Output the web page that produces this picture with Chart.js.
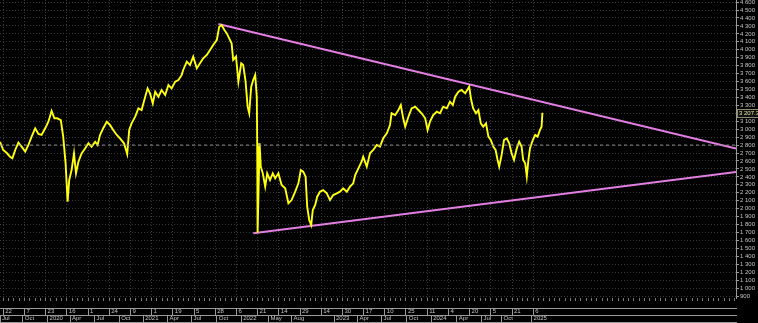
<!DOCTYPE html>
<html><head><meta charset="utf-8">
<script src="https://cdn.jsdelivr.net/npm/chart.js@4.4.1/dist/chart.umd.min.js"></script>
<style>html,body{margin:0;padding:0;background:#000;overflow:hidden}canvas{display:block}</style>
</head><body>
<canvas id="c" width="758" height="323"></canvas>
<script>
// ---- data (x = trading-session index) ----
const sessionIndex = [0,8,17,25,31,38,46,54,63,71,79,88,96,104,113,121,129,136,143,152,158,164,169,173,179,185,190,196,204,213,221,229,238,244,250,258,267,275,283,292,300,310,318,323,329,338,346,354,363,369,375,382,388,396,404,413,421,429,438,446,454,458,467,475,483,492,500,508,517,525,533,542,548,554,561,567,573,579,583,590,596,603,608,614,619,623,628,633,638,642,643,644,649,652,657,663,668,675,682,688,696,704,713,721,729,738,746,752,758,764,768,773,778,782,788,793,800,808,817,825,833,842,850,858,867,875,883,888,896,904,908,917,925,933,942,950,958,967,975,979,988,996,1002,1008,1013,1021,1029,1038,1046,1054,1063,1069,1075,1083,1092,1100,1108,1117,1125,1132,1138,1146,1154,1163,1168,1173,1178,1183,1190,1196,1202,1208,1215,1221,1227,1233,1239,1244,1248,1254,1260,1267,1273,1279,1285,1292,1298,1304,1308,1313,1317,1321,1325,1332,1338,1344,1350,1354,1356];
const closeValues = [2842,2738,2700,2654,2633,2738,2830,2780,2717,2801,2906,3011,2939,2927,3011,3094,3229,3137,3137,3115,2906,2570,2087,2360,2486,2696,2444,2590,2696,2759,2822,2780,2842,2801,2927,3011,3094,3053,2990,2927,2885,2822,2687,2990,3073,3157,3262,3241,3409,3514,3451,3325,3472,3409,3493,3430,3556,3514,3598,3619,3680,3745,3850,3808,3913,3766,3829,3892,3934,3997,4059,4122,4290,4311,4248,4206,4144,4081,3871,3913,3598,3829,3808,3598,3283,3200,3535,3619,3682,3409,2822,1697,2822,2528,2444,2276,2444,2360,2444,2381,2444,2297,2255,2067,2108,2213,2318,2486,2465,2402,2024,1857,1794,1983,2046,2150,2213,2234,2192,2108,2171,2192,2213,2255,2213,2276,2318,2423,2507,2591,2654,2528,2696,2738,2801,2780,2885,2948,3053,3200,3178,3241,3304,3137,3031,3157,3262,3283,3241,3200,3137,2990,3094,3178,3220,3200,3283,3262,3346,3304,3409,3472,3493,3451,3493,3535,3367,3262,3200,3241,3073,3031,3073,2906,2864,2780,2738,2612,2528,2675,2864,2885,2822,2696,2612,2759,2842,2780,2612,2570,2402,2612,2759,2864,2927,2906,2990,3031,3207.36];
const lastValue = 3207.36;
const referenceLevel = 2800;
const upperTrendIndex = [546, 1840];
const upperTrendValues = [4324, 2757];
const lowerTrendIndex = [633, 1840];
const lowerTrendValues = [1689, 2461];
const dayTickIndex = [8,61,114,167,220,273,326,379,432,485,538,591,644,697,750,803,856,909,962,1015,1068,1121,1174,1227,1280,1333];
const dayTickLabels = ['22','7','23','16','1','24','9','1','19','5','28','6','21','14','29','14','30','17','10','25','11','4','20','5','21','6'];
const monthTickIndex = [0,57,119,175,236,298,358,419,479,542,603,671,729,835,894,954,1017,1078,1142,1204,1254,1329];
const monthTickLabels = ['Jul','Oct','2020','Apr','Jul','Oct','2021','Apr','Jul','Oct','2022','May','Aug','2023','Apr','Jul','Oct','2024','Apr','Jul','Oct','2025'];
const yTickValues = [900,1000,1100,1200,1300,1400,1500,1600,1700,1800,1900,2000,2100,2200,2300,2400,2500,2600,2700,2800,2900,3000,3100,3200,3300,3400,3500,3600,3700,3800,3900,4000,4100,4200,4300,4400,4500,4600];
const X_MIN = 0, X_MAX = 1840, Y_MIN = 875, Y_MAX = 4626;

// ---- helpers ----
const toPoints = (xs, ys) => xs.map((x, i) => ({x, y: ys[i]}));
const fmt = v => String(v).replace(/\B(?=(\d{3})+(?!\d))/g, ' ');
const minorTicks = [];
for (let v = dayTickIndex[0] % 13.25; v <= X_MAX; v += 13.25) minorTicks.push({value: v});
const FONT = 'Liberation Sans, Arial, sans-serif';
const AXIS = '#9a9a9a', GRID = '#3a3a3a', TXT = '#c4c4c4';

const lastValuePlugin = {
  id: 'lastValue',
  afterDraw(chart) {
    const {ctx, scales: {y}} = chart;
    const py = Math.round(y.getPixelForValue(lastValue));
    ctx.save();
    ctx.fillStyle = '#101010';
    ctx.fillRect(737, py - 4, 21, 9);
    ctx.strokeStyle = '#8a8a70';
    ctx.lineWidth = 1;
    ctx.strokeRect(737.5, py - 3.5, 21, 8);
    ctx.fillStyle = '#e6e6a0';
    ctx.font = '6px ' + FONT;
    ctx.textBaseline = 'middle';
    ctx.fillText(lastValue.toFixed(2).replace(/\B(?=(\d{3})+(?!\d))/, ' '), 739, py + 0.5);
    ctx.restore();
  }
};

const fitX = h => s => { s.height = h; s.paddingLeft = 0; s.paddingRight = 0; };

new Chart(document.getElementById('c'), {
  type: 'line',
  data: {
    datasets: [
      { data: toPoints([X_MIN, X_MAX], [referenceLevel, referenceLevel]), borderColor: '#8e8e8e', borderWidth: 1, borderDash: [3, 3], pointRadius: 0 },
      { data: toPoints(sessionIndex, closeValues), borderColor: '#ffff10', borderWidth: 1.9, pointRadius: 0, tension: 0 },
      { data: toPoints(upperTrendIndex, upperTrendValues), borderColor: '#e27ee2', borderWidth: 2, pointRadius: 0 },
      { data: toPoints(lowerTrendIndex, lowerTrendValues), borderColor: '#e27ee2', borderWidth: 2, pointRadius: 0 }
    ]
  },
  options: {
    responsive: false,
    devicePixelRatio: 1,
    animation: false,
    layout: { padding: 0 },
    plugins: { legend: { display: false }, tooltip: { enabled: false } },
    scales: {
      y: {
        type: 'linear', position: 'right', min: Y_MIN, max: Y_MAX,
        afterBuildTicks: s => { s.ticks = yTickValues.map(v => ({value: v})); },
        ticks: { color: TXT, font: { family: FONT, size: 6 }, padding: 1, callback: v => fmt(v), autoSkip: false },
        grid: { color: GRID, tickColor: AXIS, tickLength: 3 },
        border: { display: true, color: AXIS, dash: [1, 2] },
        afterFit: s => { s.width = 22; s.paddingTop = 0; s.paddingBottom = 0; }
      },
      xm: {
        type: 'linear', position: 'bottom', weight: 0, min: X_MIN, max: X_MAX,
        afterBuildTicks: s => { s.ticks = minorTicks.slice(); },
        ticks: { display: false, autoSkip: false },
        grid: { drawOnChartArea: false, drawTicks: true, tickLength: 3, tickColor: '#7a7a7a' },
        border: { display: false },
        afterFit: fitX(10)
      },
      x: {
        type: 'linear', position: 'bottom', weight: 1, min: X_MIN, max: X_MAX,
        afterBuildTicks: s => { s.ticks = dayTickIndex.map(v => ({value: v})); },
        ticks: { autoSkip: false, maxRotation: 0, minRotation: 0, align: 'start', padding: -7, labelOffset: 2,
                 color: TXT, font: { family: FONT, size: 6 }, callback: (v, i) => dayTickLabels[i] },
        grid: { color: GRID, drawOnChartArea: true, drawTicks: true, tickLength: 7, tickColor: AXIS },
        border: { display: true, color: AXIS, dash: [1, 2] },
        afterFit: fitX(7)
      },
      x2: {
        type: 'linear', position: 'bottom', weight: 2, min: X_MIN, max: X_MAX,
        afterBuildTicks: s => { s.ticks = monthTickIndex.map(v => ({value: v})); },
        ticks: { autoSkip: false, maxRotation: 0, minRotation: 0, align: 'start', padding: -7.5, labelOffset: 2,
                 color: TXT, font: { family: FONT, size: 6 }, callback: (v, i) => monthTickLabels[i] },
        grid: { drawOnChartArea: false, drawTicks: true, tickLength: 7, tickColor: AXIS },
        border: { display: true, color: AXIS },
        afterFit: fitX(7)
      },
      xb: {
        type: 'linear', position: 'bottom', weight: 3, min: X_MIN, max: X_MAX,
        afterBuildTicks: s => { s.ticks = []; },
        ticks: { display: false },
        grid: { display: false, drawTicks: false },
        border: { display: true, color: AXIS },
        afterFit: fitX(1)
      }
    }
  },
  plugins: [lastValuePlugin]
});
</script>
</body></html>
